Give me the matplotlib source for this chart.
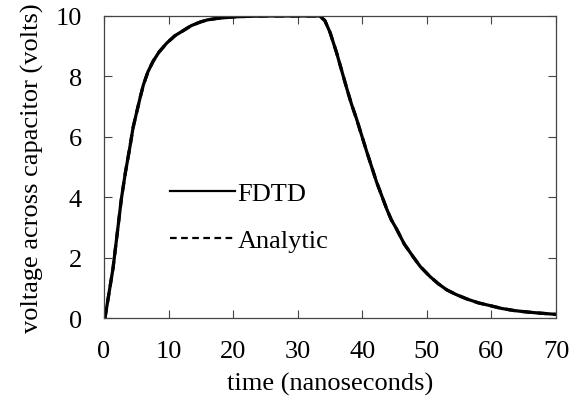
import matplotlib
matplotlib.use("Agg")
import matplotlib.pyplot as plt

# --- Data ----------------------------------------------------------------

# time in nanoseconds
time_ns = [0.15, 1.4, 2.7, 3.3, 4.0, 4.5, 5.1, 5.6, 6.1, 6.8, 7.6, 8.5,
           9.7, 11.0, 12.3, 13.5, 14.9, 16.0, 17.5, 20.0, 22.5, 25.0,
           30.0, 33.4, 34.2, 35.0, 36.0, 37.6, 38.3, 39.1, 40.7, 42.2,
           43.8, 44.5, 45.3, 46.5, 47.9, 49.0, 50.5, 51.8, 53.1, 54.5,
           56.2, 58.0, 59.8, 61.5, 63.4, 65.0, 67.0, 70.0]

# voltage across capacitor (volts)
volts_fdtd = [0.0, 1.65, 3.96, 4.8, 5.65, 6.3, 6.85, 7.3, 7.72, 8.15,
              8.5, 8.8, 9.1, 9.35, 9.52, 9.68, 9.8, 9.87, 9.92, 9.97,
              9.99, 10.0, 10.0, 10.0, 9.85, 9.46, 8.8, 7.6, 7.1, 6.6,
              5.5, 4.51, 3.6, 3.25, 2.95, 2.45, 2.02, 1.7, 1.37, 1.13,
              0.93, 0.78, 0.63, 0.5, 0.41, 0.32, 0.25, 0.21, 0.17, 0.12]
volts_analytic = list(volts_fdtd)   # curves coincide in the reference

x_ticks = [0, 10, 20, 30, 40, 50, 60, 70]
y_ticks = [0, 2, 4, 6, 8, 10]

# --- Plot -------------------------------------------------------------------

plt.rcParams["font.family"] = ["Liberation Serif", "DejaVu Serif"]

fig = plt.figure(figsize=(5.82, 4.10), dpi=100)
ax = fig.add_axes([104 / 582, 1 - 319 / 410, 452 / 582, 302 / 410])

ax.plot(time_ns, volts_fdtd, color="black", lw=2.3, label="FDTD",
        solid_joinstyle="round")
ax.plot(time_ns, volts_analytic, color="black", lw=2.3, ls=(0, (3, 2)),
        label="Analytic")

ax.set_xlim(0, 70)
ax.set_ylim(0, 10)
ax.set_xticks(x_ticks)
ax.set_yticks(y_ticks)
ax.tick_params(direction="in", length=6, width=0.8, top=True, right=True,
               labelsize=19, pad=16, color="#444444")
for s in ax.spines.values():
    s.set_color("#444444")
    s.set_linewidth(0.9)

ax.set_xlabel("time (nanoseconds)", fontsize=19, labelpad=7)
ax.set_ylabel("voltage across capacitor (volts)", fontsize=19, labelpad=8)

leg = ax.legend(loc="upper left", bbox_to_anchor=(170 / 582, 1 - 183 / 410),
                bbox_transform=fig.transFigure, frameon=False, fontsize=19,
                handlelength=2.45, handletextpad=0.1, labelspacing=0.88,
                borderpad=0, borderaxespad=0)
leg.get_lines()[0].set_linewidth(1.6)
leg.get_lines()[1].set_linewidth(1.6)

fig.savefig("out.png", dpi=100)
